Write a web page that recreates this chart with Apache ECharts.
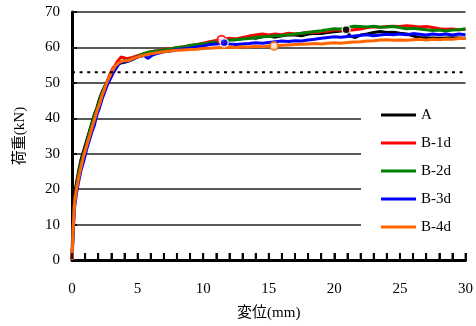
<!DOCTYPE html>
<html>
<head>
<meta charset="utf-8">
<script src="https://cdn.jsdelivr.net/npm/echarts@6/dist/echarts.min.js"></script>
<style>html,body{margin:0;padding:0;background:#fff}#c{width:476px;height:326px}</style>
</head>
<body>
<div id="c"></div>
<script>
var seriesNames = ['A', 'B-1d', 'B-2d', 'B-3d', 'B-4d'];
var seriesColors = ['#000000', '#ff0000', '#008000', '#0000ff', '#ff6600'];
var xTicks = [0, 5, 10, 15, 20, 25, 30];
var yTicks = [0, 10, 20, 30, 40, 50, 60, 70];
var xTickMarks = [0,1,2,3,4,5,6,7,8,9,10,11,12,13,14,15,16,17,18,19,20,21,22,23,24,25,26,27,28,29,30];
var dashedLevel = 53;

var dataA = [[0,0],[0.05,8],[0.12,15],[0.2,19],[0.35,22],[0.5,25],[0.7,28.5],[0.9,31],[1.1,33.5],[1.3,36],[1.5,38.5],[1.7,41],[1.9,43],[2.1,45.5],[2.3,47.5],[2.5,49],[2.7,50.5],[2.9,52],[3.1,53.5],[3.3,54.5],[3.6,55.5],[4.0,55.8],[4.4,56.3],[4.8,57],[5.2,57.6],[5.6,58],[6,58.4],[6.5,58.8],[7,59.2],[7.5,59.3],[8,59.8],[8.5,60],[9,60.6],[9.5,60.5],[10,61],[10.5,61.2],[11,61.6],[11.5,62],[12,62.3],[12.5,62.2],[13,62.5],[13.5,62.8],[14,62.6],[14.5,63],[15,63.2],[15.5,62.9],[16,63.3],[16.5,63.6],[17,63.5],[17.5,63.3],[18,63.8],[18.5,64],[19,63.9],[19.5,64.2],[20,64.4],[20.5,64.6],[20.9,65],[21.2,63.2],[21.6,62.8],[22,63.5],[22.5,63.8],[23,64.2],[23.5,64.5],[24,64.2],[24.5,64.3],[25,64],[25.5,63.8],[26,63.3],[26.5,62.8],[27,62.7],[28,62.6],[29,62.7],[30,62.6]];
var dataB1 = [[0,0],[0.05,6],[0.12,13],[0.2,17.5],[0.35,21],[0.5,24],[0.7,27],[0.9,30],[1.1,32.5],[1.3,35],[1.5,37.5],[1.7,40],[1.9,42.5],[2.1,44.5],[2.3,47],[2.5,49],[2.7,50.5],[2.9,52.5],[3.1,54],[3.3,55],[3.5,56.2],[3.75,57.3],[3.9,56.8],[4.2,56.8],[4.6,57.2],[5,57.7],[5.5,58.2],[6,58.8],[6.5,59.1],[7,59.4],[7.5,59.6],[8,59.9],[8.5,60.2],[9,60.5],[9.5,60.8],[10,61.2],[10.5,61.6],[11,62],[11.5,62.2],[12,62.6],[12.5,62.4],[13,62.8],[13.5,63.2],[14,63.5],[14.5,63.8],[15,63.5],[15.5,63.8],[16,63.6],[16.5,64],[17,63.8],[17.5,64],[18,64.3],[18.5,64.2],[19,64.5],[19.5,64.6],[20,64.9],[20.5,65],[21,64.8],[21.5,65],[22,65.2],[22.5,65.6],[23,65.8],[23.5,65.7],[24,65.9],[24.5,66],[25,65.9],[25.5,66.1],[26,66],[26.5,65.8],[27,65.9],[27.5,65.6],[28,65.3],[28.5,65.1],[29,65.2],[29.5,65],[30,65.1]];
var dataB2 = [[0,0],[0.05,5],[0.12,12],[0.2,16.5],[0.35,20.5],[0.5,24],[0.7,27.5],[0.9,30],[1.1,32.5],[1.3,35.5],[1.5,38],[1.7,40.5],[1.9,42.5],[2.1,45],[2.3,47],[2.5,49],[2.7,50.5],[2.9,52],[3.1,53.5],[3.3,54.5],[3.6,55.5],[4,56.3],[4.5,56.6],[5,57.5],[5.5,58.3],[6,58.8],[6.5,59],[7,59.3],[7.5,59.5],[8,60],[8.5,60.1],[9,60.5],[9.5,60.8],[10,61],[10.5,61.3],[11,61.5],[11.5,61.8],[12,62],[12.5,62.2],[13,62.4],[13.5,62.5],[14,62.8],[14.5,63],[15,63.1],[15.5,63.3],[16,63.4],[16.5,63.6],[17,63.8],[17.5,64],[18,64.2],[18.5,64.5],[19,64.7],[19.5,65],[20,65.3],[20.5,65.2],[21,65.6],[21.5,66],[22,65.9],[22.5,65.8],[23,66],[23.5,65.7],[24,65.8],[24.5,65.9],[25,65.6],[25.5,65.3],[26,65.4],[26.5,65.2],[27,65],[27.5,64.8],[28,64.9],[28.5,64.6],[29,64.9],[29.5,65],[30,65.3]];
var dataB3 = [[0,0],[0.05,4],[0.12,10],[0.2,15],[0.35,19],[0.5,22],[0.7,25.5],[0.9,28],[1.1,31],[1.3,33.5],[1.5,36],[1.7,38],[1.9,41],[2.1,43],[2.3,45.5],[2.5,47.5],[2.7,49.5],[2.9,51],[3.1,52.5],[3.3,53.8],[3.6,55.5],[3.9,56],[4.3,56.2],[4.7,56.8],[5.1,57.4],[5.5,57.7],[5.8,56.9],[6.1,57.8],[6.5,58.3],[7,58.8],[7.5,59],[8,59.4],[8.5,59.6],[9,59.8],[9.5,60.1],[10,60.4],[10.5,60.8],[11,61],[11.6,61.2],[12,61],[12.5,60.8],[13,61],[13.5,61.1],[14,61.3],[14.5,61.2],[15,61.4],[15.5,61.6],[16,61.8],[16.5,61.7],[17,61.9],[17.5,61.8],[18,62.1],[18.5,62.3],[19,62.6],[19.5,62.8],[20,63],[20.5,62.9],[21,63.1],[21.5,63.2],[22,63.4],[22.5,63.6],[23,63.3],[23.5,63.5],[24,63.7],[24.5,63.6],[25,63.8],[25.5,63.6],[26,63.9],[26.5,63.7],[27,63.5],[27.5,63.8],[28,63.6],[28.5,63.8],[29,63.5],[29.5,63.8],[30,63.6]];
var dataB4 = [[0,0],[0.05,5],[0.12,11],[0.2,16],[0.35,20],[0.5,23],[0.7,26.5],[0.9,29.5],[1.1,32],[1.3,34.5],[1.5,37],[1.7,39.5],[1.9,42],[2.1,44],[2.3,46.5],[2.5,48.5],[2.7,50.5],[2.9,52],[3.1,53.5],[3.3,54.8],[3.6,55.8],[3.9,56.2],[4.3,56.3],[4.7,56.9],[5.1,57.4],[5.5,57.8],[6,58.2],[6.5,58.5],[7,58.8],[7.5,59],[8,59.2],[8.5,59.3],[9,59.4],[9.5,59.5],[10,59.7],[10.5,59.8],[11,59.9],[11.5,60],[12,60.1],[12.5,60],[13,60.2],[13.5,60.1],[14,60.3],[14.5,60.2],[15,60.4],[15.4,60.4],[16,60.6],[16.5,60.7],[17,60.8],[17.5,60.9],[18,61],[18.5,61.1],[19,61],[19.5,61.2],[20,61.3],[20.5,61.2],[21,61.4],[21.5,61.5],[22,61.6],[22.5,61.8],[23,61.9],[23.5,62.1],[24,62.2],[24.5,62],[25,62.1],[25.5,62],[26,62.2],[26.5,62.3],[27,62.1],[27.5,62.3],[28,62.2],[28.5,62.4],[29,62.3],[29.5,62.5],[30,62.5]];

var peakA = [[20.9, 65]];
var peakB1 = [[11.4, 62.2]];
var peakB3 = [[11.6, 61.3]];
var peakB4 = [[15.4, 60.4]];

var allData = [dataA, dataB1, dataB2, dataB3, dataB4];
var peaks = [
  {data: peakA, idx: 0, hollow: false},
  {data: peakB1, idx: 1, hollow: true},
  {data: peakB3, idx: 3, hollow: false},
  {data: peakB4, idx: 4, hollow: true}
];

var FONT = '"Liberation Serif", "Noto Sans CJK JP", serif';

var series = [];
for (var i = 0; i < seriesNames.length; i++) {
  series.push({
    type: 'line', name: seriesNames[i], data: allData[i],
    showSymbol: false, symbol: 'none',
    lineStyle: {color: seriesColors[i], width: 3},
    itemStyle: {color: seriesColors[i]}
  });
}
series.push({
  type: 'line', name: 'dashed', data: [[0, dashedLevel], [30, dashedLevel]],
  symbol: 'none', silent: true,
  lineStyle: {color: '#000', width: 2, type: [3, 4.6]}
});
peaks.forEach(function (p) {
  var c = seriesColors[p.idx];
  series.push({
    type: 'scatter', name: 'peak' + p.idx, data: p.data, symbolSize: 8,
    itemStyle: p.hollow ? {color: '#fff', borderColor: c, borderWidth: 2} : {color: c, borderColor: '#fff', borderWidth: 1.5},
    z: 5
  });
});
// inward tick marks along the bottom axis, placed through the x scale
series.push({
  type: 'scatter', name: 'xticks', silent: true, clip: false,
  data: xTickMarks.map(function (v) { return [v, 0]; }),
  symbol: 'rect', symbolSize: [2, 6], symbolOffset: [0, -4],
  itemStyle: {color: '#000'}, z: 6
});

var chart = echarts.init(document.getElementById('c'), null, {renderer: 'canvas'});
chart.setOption({
  animation: false,
  backgroundColor: '#fff',
  grid: {left: 72, right: 9, top: 12, bottom: 65, containLabel: false},
  legend: {
    data: seriesNames, orient: 'vertical', left: 361, top: 99,
    backgroundColor: '#fff', padding: [8, 40, 8, 20],
    icon: 'rect', itemWidth: 35, itemHeight: 3, itemGap: 12,
    textStyle: {fontFamily: FONT, fontSize: 15, color: '#000', lineHeight: 16},
    selectedMode: false
  },
  xAxis: {
    type: 'value', min: 0, max: 30, interval: 1,
    name: '変位(mm)', nameLocation: 'middle', nameGap: 46,
    nameTextStyle: {fontFamily: FONT, fontSize: 15, color: '#000'},
    axisLine: {show: true, onZero: false, lineStyle: {color: '#000', width: 3}},
    axisTick: {show: true, inside: true, length: 7, lineStyle: {color: '#111', width: 2}},
    axisLabel: {fontFamily: FONT, fontSize: 15, color: '#000', margin: 22, interval: 0,
      formatter: function (v) { return xTicks.indexOf(v) >= 0 ? String(v) : ''; }},
    splitLine: {show: false}
  },
  yAxis: {
    type: 'value', min: 0, max: 70, interval: 10,
    name: '荷重(kN)', nameLocation: 'middle', nameGap: 44, nameRotate: 90,
    nameTextStyle: {fontFamily: FONT, fontSize: 15, color: '#000'},
    axisLine: {show: true, onZero: false, lineStyle: {color: '#000', width: 3}},
    axisTick: {show: true, inside: true, length: 5, lineStyle: {color: '#111', width: 2}},
    axisLabel: {fontFamily: FONT, fontSize: 15, color: '#000', margin: 12,
      formatter: function (v) { return yTicks.indexOf(v) >= 0 ? String(v) : ''; }},
    splitLine: {show: true, lineStyle: {color: '#222', width: 1.5}}
  },
  series: series
});
</script>
</body>
</html>
